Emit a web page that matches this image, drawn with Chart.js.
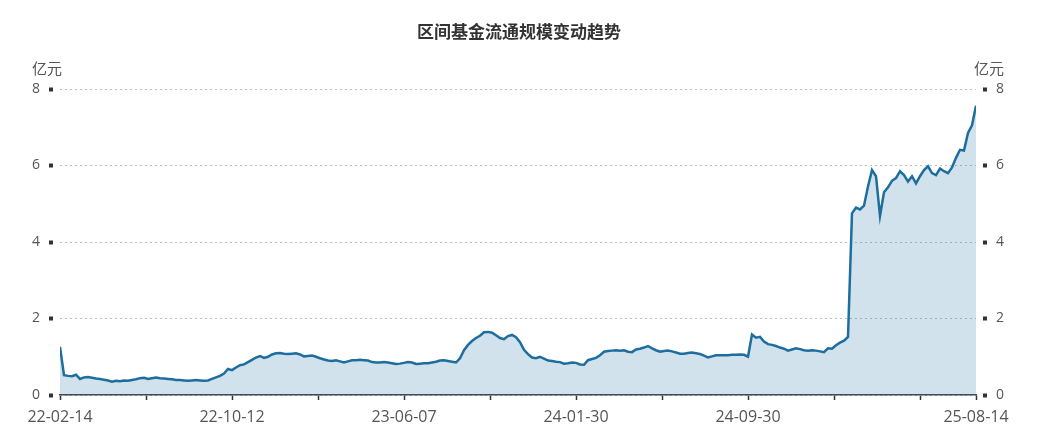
<!DOCTYPE html>
<html lang="zh">
<head>
    <meta charset="UTF-8">
    <title>区间基金流通规模变动趋势</title>
    <script src="https://cdn.jsdelivr.net/npm/chart.js"></script>
    <style>
        html, body { margin: 0; padding: 0; background: #fff; }
        #wrap { width: 1038px; height: 444px; }
    </style>
</head>
<body>
<div id="wrap"><canvas id="fundChart"></canvas></div>
<script>
    // 区间基金流通规模 (亿元), evenly spaced samples from 22-02-14 to 25-08-14
    const scaleValues = [
        1.26, 0.52, 0.50, 0.49, 0.53, 0.42, 0.46, 0.47, 0.45, 0.43,
        0.42, 0.40, 0.38, 0.35, 0.37, 0.36, 0.38, 0.37, 0.39, 0.41,
        0.44, 0.45, 0.42, 0.44, 0.46, 0.44, 0.43, 0.42, 0.41, 0.39,
        0.39, 0.38, 0.37, 0.38, 0.39, 0.38, 0.37, 0.38, 0.42, 0.46,
        0.50, 0.56, 0.68, 0.65, 0.72, 0.78, 0.80, 0.86, 0.92, 0.98,
        1.02, 0.97, 1.00, 1.06, 1.09, 1.10, 1.08, 1.07, 1.08, 1.09,
        1.06, 1.01, 1.02, 1.03, 1.00, 0.96, 0.93, 0.90, 0.89, 0.91,
        0.88, 0.85, 0.88, 0.91, 0.91, 0.92, 0.91, 0.90, 0.86, 0.85,
        0.85, 0.86, 0.85, 0.83, 0.81, 0.82, 0.84, 0.86, 0.85, 0.81,
        0.82, 0.83, 0.83, 0.85, 0.87, 0.90, 0.91, 0.89, 0.87, 0.85,
        0.96, 1.17, 1.31, 1.41, 1.49, 1.55, 1.64, 1.65, 1.63, 1.56,
        1.49, 1.46, 1.54, 1.57, 1.51, 1.38, 1.18, 1.07, 0.98, 0.96,
        1.00, 0.95, 0.90, 0.89, 0.87, 0.86, 0.82, 0.83, 0.85, 0.84,
        0.80, 0.79, 0.91, 0.94, 0.97, 1.04, 1.13, 1.15, 1.16, 1.17,
        1.16, 1.17, 1.13, 1.12, 1.19, 1.21, 1.24, 1.28, 1.22, 1.17,
        1.13, 1.15, 1.16, 1.14, 1.11, 1.08, 1.08, 1.10, 1.11, 1.09,
        1.07, 1.03, 0.98, 1.01, 1.04, 1.04, 1.04, 1.04, 1.05, 1.05,
        1.06, 1.05, 1.00, 1.58, 1.50, 1.52, 1.40, 1.33, 1.31, 1.28,
        1.24, 1.21, 1.16, 1.19, 1.22, 1.20, 1.17, 1.16, 1.17, 1.16,
        1.14, 1.12, 1.22, 1.21, 1.30, 1.37, 1.42, 1.52, 4.75, 4.90,
        4.85, 4.95, 5.45, 5.88, 5.72, 4.68, 5.30, 5.43, 5.60, 5.67,
        5.85, 5.75, 5.58, 5.72, 5.53, 5.72, 5.88, 5.98, 5.80, 5.75,
        5.92, 5.85, 5.80, 5.95, 6.20, 6.41, 6.39, 6.85, 7.05, 7.56
    ];

    // x axis: tick marks (in sample index units) and the labelled ones
    const tickPositions = [0, 21.5, 43, 64.5, 86, 107.5, 129, 150.5, 172, 193.5, 215, 229];
    const labelPositions = [0, 43, 86, 129, 172, 229];
    const tickLabels = ['22-02-14', '22-10-12', '23-06-07', '24-01-30', '24-09-30', '25-08-14'];

    const yTicks = [0, 2, 4, 6, 8];

    const points = scaleValues.map((v, i) => ({ x: i, y: v }));

    // "亿元" unit labels above both y axes
    const unitLabels = {
        id: 'unitLabels',
        afterDraw(chart) {
            const ctx = chart.ctx;
            const top = chart.chartArea.top;
            ctx.save();
            ctx.font = '15px "Noto Sans CJK SC", sans-serif';
            ctx.fillStyle = '#555';
            ctx.textAlign = 'center';
            ctx.textBaseline = 'middle';
            ctx.fillText('亿元', 47, top - 21);
            ctx.fillText('亿元', 989, top - 21);
            ctx.restore();
        }
    };

    const yTickStyle = {
        min: 0,
        max: 8,
        afterBuildTicks: (scale) => { scale.ticks = yTicks.map(v => ({ value: v })); },
        ticks: {
            color: '#555',
            padding: 9,
            font: { family: 'Open Sans', size: 14 }
        },
        border: { display: false, dash: [2, 3] }
    };

    new Chart(document.getElementById('fundChart'), {
        type: 'line',
        data: {
            datasets: [{
                data: points,
                borderColor: '#1d6e9f',
                borderWidth: 2.5,
                backgroundColor: 'rgba(29, 110, 159, 0.2)',
                fill: 'origin',
                pointRadius: 0,
                tension: 0
            }]
        },
        options: {
            responsive: true,
            maintainAspectRatio: false,
            animation: false,
            layout: { padding: 0 },
            plugins: {
                legend: { display: false },
                tooltip: { enabled: false },
                title: {
                    display: true,
                    text: '区间基金流通规模变动趋势',
                    color: '#333',
                    font: { family: '"Noto Sans CJK SC"', size: 17, weight: 'bold' },
                    padding: { top: 21, bottom: 47.6 }
                }
            },
            scales: {
                x: {
                    type: 'linear',
                    min: 0,
                    max: 229,
                    z: 1,
                    afterFit: (scale) => { scale.height = 49; },
                    afterBuildTicks: (scale) => { scale.ticks = tickPositions.map(v => ({ value: v })); },
                    ticks: {
                        autoSkip: false,
                        maxRotation: 0,
                        color: '#555',
                        padding: 8,
                        font: { family: 'Open Sans', size: 16 },
                        callback: (value) => {
                            const k = labelPositions.indexOf(value);
                            return k >= 0 ? tickLabels[k] : '';
                        }
                    },
                    grid: {
                        drawOnChartArea: false,
                        tickLength: 5,
                        tickColor: '#333',
                        tickWidth: 1.5
                    },
                    border: { display: true, color: '#3b4650', width: 1.5 }
                },
                y: Object.assign({}, yTickStyle, {
                    position: 'left',
                    afterFit: (scale) => { scale.width = 60; },
                    grid: {
                        color: '#bdbdbd',
                        lineWidth: 1,
                        tickLength: 11,
                        tickColor: '#333',
                        tickWidth: 4,
                        tickBorderDash: [4, 100]
                    }
                }),
                y2: Object.assign({}, yTickStyle, {
                    position: 'right',
                    afterFit: (scale) => { scale.width = 62; },
                    grid: {
                        drawOnChartArea: false,
                        tickLength: 11,
                        tickColor: '#333',
                        tickWidth: 4,
                        tickBorderDash: [0, 7, 4, 100]
                    }
                })
            }
        },
        plugins: [unitLabels]
    });
</script>
</body>
</html>
